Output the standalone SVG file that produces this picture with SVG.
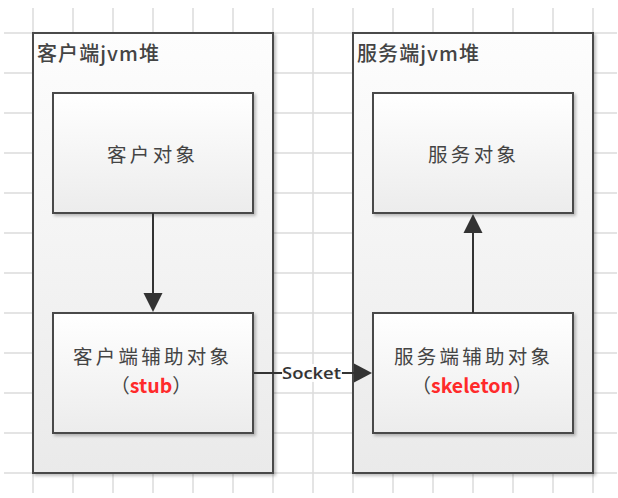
<svg xmlns="http://www.w3.org/2000/svg" width="618" height="498" viewBox="0 0 618 498">
<defs>
<linearGradient id="gc" x1="0" y1="0" x2="0" y2="1"><stop offset="0" stop-color="#fdfdfd"/><stop offset="1" stop-color="#eaeaea"/></linearGradient>
<linearGradient id="gb" x1="0" y1="0" x2="0" y2="1"><stop offset="0" stop-color="#ffffff"/><stop offset="1" stop-color="#ececec"/></linearGradient>
<filter id="sh" x="-10%" y="-10%" width="120%" height="120%"><feDropShadow dx="2" dy="2" stdDeviation="1.5" flood-color="#000" flood-opacity="0.25"/></filter>
</defs>
<style>
.grid{stroke:#dcdcdc;stroke-width:1.5;fill:none}
.cont{fill:url(#gc);stroke:#4a4a4a;stroke-width:2;filter:url(#sh)}
.box{fill:url(#gb);stroke:#4a4a4a;stroke-width:2;filter:url(#sh)}
.title{font-family:"Noto Sans CJK SC","Noto Sans",sans-serif;font-size:20px;fill:#444;font-weight:500}
.lbl{font-family:"Noto Sans CJK SC","Noto Sans",sans-serif;font-size:19.5px;fill:#444;text-anchor:middle}
.red{fill:#ff2a2a;font-weight:600}
.line{stroke:#333;stroke-width:2;fill:none}
.head{fill:#333}
.sock{font-family:"Open Sans","Noto Sans",sans-serif;font-size:16px;font-weight:600;fill:#333}
</style>
<rect width="618" height="498" fill="#fff"/>
<path class="grid" d="M33 8V493M73 8V493M113 8V493M153 8V493M193 8V493M233 8V493M273 8V493M313 8V493M353 8V493M393 8V493M433 8V493M473 8V493M513 8V493M553 8V493M593 8V493M4 33H617M4 73H617M4 113H617M4 153H617M4 193H617M4 233H617M4 273H617M4 313H617M4 353H617M4 393H617M4 433H617M4 473H617"/>
<g id="client-heap">
<rect class="cont" x="33" y="33" width="240" height="440"/>
<text class="title" x="37" y="61" textLength="122" lengthAdjust="spacing">客户端jvm堆</text>
</g>
<g id="server-heap">
<rect class="cont" x="353" y="33" width="240" height="440"/>
<text class="title" x="357" y="61" textLength="122" lengthAdjust="spacing">服务端jvm堆</text>
</g>
<g id="client-object">
<rect class="box" x="53" y="93" width="200" height="120"/>
<text class="lbl" x="151" y="162" textLength="88" lengthAdjust="spacing">客户对象</text>
</g>
<g id="client-stub">
<rect class="box" x="53" y="313" width="200" height="120"/>
<text class="lbl" x="151" y="364" textLength="156" lengthAdjust="spacing">客户端辅助对象</text>
<text class="lbl" x="151" y="393">（<tspan class="red">stub</tspan>）</text>
</g>
<g id="server-object">
<rect class="box" x="373" y="93" width="200" height="120"/>
<text class="lbl" x="472" y="162" textLength="88" lengthAdjust="spacing">服务对象</text>
</g>
<g id="server-skeleton">
<rect class="box" x="373" y="313" width="200" height="120"/>
<text class="lbl" x="472" y="364" textLength="156" lengthAdjust="spacing">服务端辅助对象</text>
<text class="lbl" x="472" y="393">（<tspan class="red">skeleton</tspan>）</text>
</g>
<g id="connectors">
<path class="line" d="M153 213V296"/>
<polygon class="head" points="143.5,293 162.5,293 153,312"/>
<path class="line" d="M473 313V231"/>
<polygon class="head" points="463.5,233 482.5,233 473,214"/>
<path class="line" d="M254 373H358"/>
<polygon class="head" points="354,363.5 354,382.5 372,373"/>
<rect x="282" y="364" width="60" height="18" fill="#fff" opacity="0.9"/>
<text class="sock" x="282" y="379" textLength="59" lengthAdjust="spacingAndGlyphs">Socket</text>
</g>
</svg>
